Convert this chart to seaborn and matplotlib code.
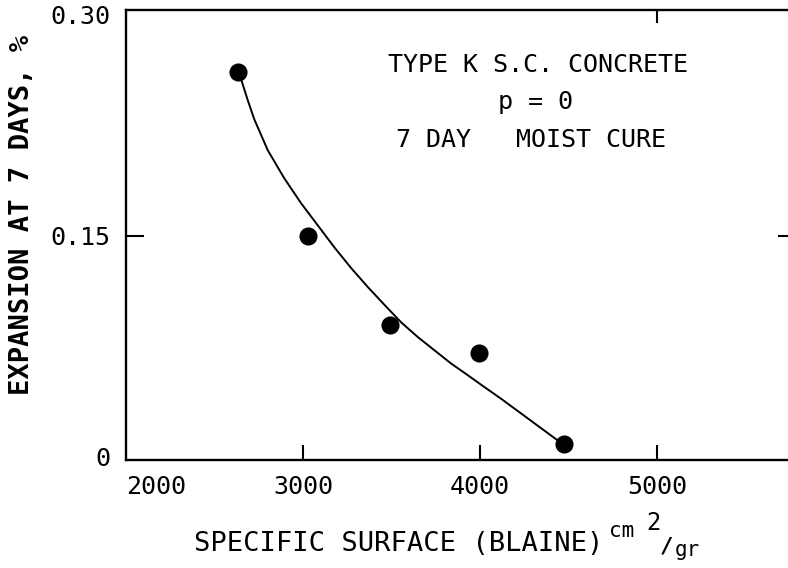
import matplotlib
matplotlib.use("Agg")
import matplotlib.pyplot as plt
import seaborn as sns
import pandas as pd

# ---- data ----
surface_pts = [2633, 3030, 3493, 3996, 4475]          # Blaine, cm2/gr
expansion_pts = [0.261, 0.150, 0.089, 0.070, 0.008]   # expansion at 7 days, %

curve_x = [2633, 2646, 2688, 2725, 2801, 2894, 2989, 3083, 3177, 3271, 3366, 3459,
           3554, 3648, 3742, 3836, 3931, 4024, 4119, 4277, 4435, 4465]
curve_y = [0.261, 0.258, 0.242, 0.229, 0.208, 0.189, 0.172, 0.157, 0.142, 0.128, 0.115, 0.103,
           0.091, 0.081, 0.072, 0.063, 0.055, 0.047, 0.039, 0.025, 0.011, 0.008]

x_ticks = [2000, 3000, 4000, 5000]
x_tick_labels = ["2000", "3000", "4000", "5000"]
y_ticks = [0, 0.15, 0.30]
y_tick_labels = ["0", "0.15", "0.30"]
note_lines = ["TYPE K S.C. CONCRETE", "p = 0", "7 DAY   MOIST CURE"]
x_title = "SPECIFIC SURFACE (BLAINE)"
y_title = "EXPANSION AT 7 DAYS, %"

points = pd.DataFrame({"surface": surface_pts, "expansion": expansion_pts})
curve = pd.DataFrame({"surface": curve_x, "expansion": curve_y})

sns.set_theme(style="ticks")
plt.rcParams["font.family"] = ["DejaVu Sans Mono", "DejaVu Sans"]
plt.rcParams["mathtext.fontset"] = "dejavusans"

W, H = 788, 568
fig = plt.figure(figsize=(W / 100, H / 100), dpi=100)
fig.patch.set_facecolor("white")


def px(x, y):
    return x / W, 1 - y / H


ax = fig.add_axes([126 / W, 1 - 460 / H, (792 - 126) / W, 450 / H])
ax.set_facecolor("white")

sns.lineplot(data=curve, x="surface", y="expansion", ax=ax, color="black",
             lw=1.4, sort=False, estimator=None)
sns.scatterplot(data=points, x="surface", y="expansion", ax=ax, color="black",
                s=170, edgecolor="black", linewidth=0, zorder=3)

ax.set_xlim(2000, 5763)
ax.set_ylim(-0.0027, 0.3034)

for side in ["left", "bottom", "top", "right"]:
    ax.spines[side].set_linewidth(1.7)
    ax.spines[side].set_color("black")

ax.set_xticks(x_ticks)
ax.set_xticklabels(x_tick_labels, fontsize=18, color="black")
ax.set_yticks(y_ticks)
ax.set_yticklabels(y_tick_labels, fontsize=18, color="black")
ax.tick_params(axis="x", direction="in", length=11, width=1.5, pad=11, colors="black")
ax.tick_params(axis="y", direction="in", length=13, width=1.5, pad=11, colors="black")
ax.get_xticklabels()[0].set_horizontalalignment("left")
xt = ax.xaxis.get_major_ticks()
xt[0].tick1line.set_visible(False)
yt = ax.yaxis.get_major_ticks()
yt[0].tick1line.set_visible(False)
yt[2].tick1line.set_visible(False)
ax.set_xlabel("")
ax.set_ylabel("")

secx = ax.secondary_xaxis("top")
secx.set_xticks([5000])
secx.set_xticklabels([])
secx.tick_params(direction="in", length=9, width=1.5, colors="black")
secy = ax.secondary_yaxis("right")
secy.set_yticks([0.15])
secy.set_yticklabels([])
secy.tick_params(direction="in", length=10, width=1.5, colors="black")

# annotation block
fig.text(*px(538, 65), note_lines[0], ha="center", va="center", fontsize=18, color="black")
fig.text(*px(536, 102), note_lines[1], ha="center", va="center", fontsize=18, color="black")
fig.text(*px(531, 140), note_lines[2], ha="center", va="center", fontsize=18, color="black")

# y label
fig.text(*px(22, 215), y_title, rotation=90, ha="center", va="center",
         fontsize=19.5, fontweight="bold", color="black")

# x label with unit cm2/gr
t = fig.text(*px(399, 551), x_title, ha="center", va="baseline", fontsize=19.5, color="black")
fig.canvas.draw()
x_end = t.get_window_extent().x1  # pixels from left
fig.text(*px(x_end + 5, 537), "cm", ha="left", va="baseline", fontsize=15, color="black")
fig.text(*px(x_end + 43, 530), "2", ha="left", va="baseline", fontsize=17, color="black")
fig.text(*px(x_end + 56, 552), "/", ha="left", va="baseline", fontsize=16,
         fontweight="bold", color="black")
fig.text(*px(x_end + 71, 556), "gr", ha="left", va="baseline", fontsize=15, color="black")

fig.savefig("out.png", dpi=100, facecolor="white")
